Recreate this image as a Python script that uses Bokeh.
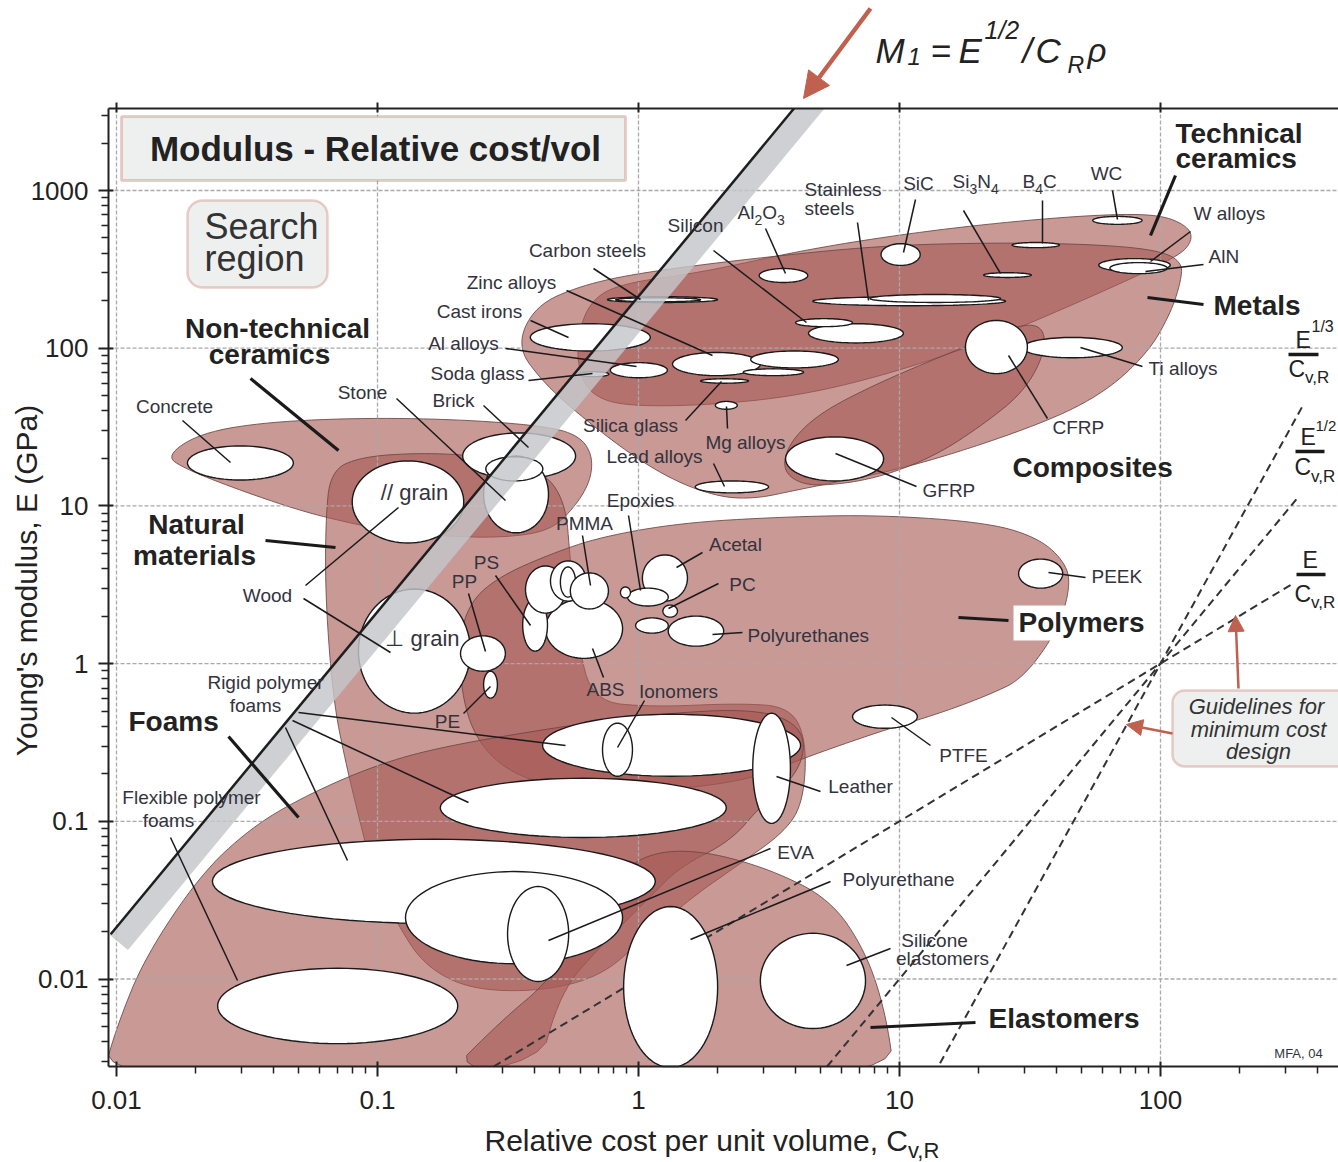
import numpy as np
from bokeh.plotting import figure
from bokeh.models import Label, BoxAnnotation, Arrow, NormalHead, FixedTicker, LogAxis
from bokeh.embed import file_html
from bokeh.resources import INLINE

# ---------------------------------------------------------------- data
x_ticks = [0.01, 0.1, 1.0, 10.0, 100.0]
x_tick_labels = ["0.01", "0.1", "1", "10", "100"]
y_ticks = [0.01, 0.1, 1.0, 10.0, 100.0, 1000.0]
y_tick_labels = ["0.01", "0.1", "1", "10", "100", "1000"]

# material bubbles: relative cost per unit volume range and modulus range (GPa)
mat_names = ["Cast irons", "Carbon steels", "Low alloy steels", "Zinc alloys", "Copper alloys",
             "Tin alloys", "Al alloys", "Soda glass", "Silica glass", "Mg alloys", "Lead alloys",
             "Al2O3", "Nickel alloys", "Silicon", "Stainless steels", "Ni superalloys", "SiC",
             "Si3N4", "B4C", "WC", "W alloys", "AlN", "Ti alloys", "CFRP", "GFRP", "Concrete",
             "Brick", "Stone", "Stone (dense)", "Wood // grain", "Wood perp. grain", "PP", "PE",
             "ABS", "PS", "PVC", "PET", "PA", "PMMA", "Acetal", "Epoxies", "Phenolics", "PC",
             "Polyesters", "Polyurethanes", "PEEK", "PTFE", "Rigid foam HD", "Ionomers", "Leather",
             "Rigid foam MD", "Rigid foam LD", "Cork", "EVA", "Polyurethane", "Silicone elastomers",
             "Flexible polymer foam"]
mat_cost_lo = [0.385, 0.76, 0.817, 1.35, 2.69, 2.52, 0.78, 0.59, 1.73, 1.97, 1.65,
               2.9, 4.48, 4.0, 4.65, 7.7, 8.5, 21, 27, 55, 58, 64, 29.6, 17.9, 3.66, 0.0187,
               0.212, 0.255, 0.26, 0.080, 0.0845, 0.208, 0.255, 0.44, 0.36, 0.369, 0.46, 0.502,
               0.548, 1.035, 0.908, 0.853, 1.24, 0.975, 1.30, 28.6, 6.61, 0.429, 0.728, 2.74,
               0.174, 0.0233, 0.128, 0.315, 0.877, 2.93, 0.0244]
mat_cost_hi = [1.11, 2.01, 1.73, 2.93, 5.83, 4.29, 1.29, 0.77, 2.64, 2.39, 3.15,
               4.45, 10.35, 6.6, 25.5, 24.4, 12.0, 32, 41, 85, 109, 106, 71.4, 30.9, 8.69, 0.0476,
               0.574, 0.452, 0.43, 0.214, 0.227, 0.309, 0.288, 0.869, 0.448, 0.525, 0.63, 0.574,
               0.767, 1.54, 1.30, 0.931, 1.41, 1.30, 2.12, 42.2, 11.7, 4.18, 0.948, 3.82,
               2.17, 1.16, 0.869, 0.54, 2.01, 7.41, 0.203]
mat_E_lo = [96, 195, 197, 67, 75, 67, 65, 66, 60, 41, 12.1,
            261, 108, 137, 186, 195, 335, 281, 434, 610, 306, 297, 87, 69, 14.4, 14.6,
            14.8, 6.75, 14.4, 5.82, 0.485, 0.895, 0.604, 1.08, 1.20, 2.09, 2.49, 2.64,
            2.22, 2.49, 2.32, 2.61, 1.97, 1.56, 1.29, 3.01, 0.389, 0.193, 0.193, 0.097,
            0.079, 0.0225, 0.0125, 0.00964, 0.00274, 0.00485, 0.00389]
mat_E_hi = [143, 212, 209, 94, 96, 74, 81, 71, 64, 46, 14.4,
            320, 143, 154, 212, 219, 460, 301, 468, 685, 370, 349, 117, 150, 27.4, 24.0,
            29.0, 20.7, 20.5, 19.3, 2.97, 1.50, 0.895, 2.57, 2.57, 4.16, 4.48, 4.10,
            3.76, 4.89, 3.01, 3.06, 2.35, 1.95, 2.00, 4.6, 0.546, 0.477, 0.419, 0.485,
            0.1875, 0.0769, 0.048, 0.0386, 0.0288, 0.0195, 0.0117]

# family envelopes: outline vertices, log10(cost) and log10(E)
tech_ceramics_log_cost = [-0.234, -0.184, -0.069, 0.238, 0.621, 1.004, 1.387, 1.770, 2.000, 2.107,
                          2.123, 2.069, 1.770, 1.387, 1.004, 0.621, 0.238, -0.069, -0.184, -0.230]
tech_ceramics_log_E = [2.079, 2.302, 2.410, 2.479, 2.619, 2.721, 2.797, 2.848, 2.848, 2.771,
                       2.683, 2.581, 2.352, 2.079, 1.857, 1.698, 1.635, 1.635, 1.711, 1.857]
metals_log_cost = [-0.467, -0.395, -0.222, 0.008, 0.429, 0.927, 1.387, 1.770, 2.000, 2.084, 2.077,
                   2.038, 1.950, 1.770, 1.506, 1.034, 0.644, 0.410, 0.222, 0.019, -0.215, -0.372]
metals_log_E = [2.016, 2.270, 2.397, 2.479, 2.568, 2.651, 2.670, 2.657, 2.619, 2.543, 2.416,
                2.219, 1.965, 1.698, 1.495, 1.241, 1.114, 1.032, 1.095, 1.267, 1.559, 1.794]
composites_log_cost = [0.552, 0.590, 0.697, 0.889, 1.119, 1.349, 1.494, 1.559, 1.548, 1.471,
                       1.330, 1.138, 0.908, 0.678, 0.582]
composites_log_E = [1.273, 1.425, 1.590, 1.756, 1.921, 2.073, 2.162, 2.111, 1.933, 1.717,
                    1.527, 1.317, 1.171, 1.121, 1.171]
nontech_log_cost = [-1.812, -1.678, -1.421, -1.038, -0.655, -0.337, -0.222, -0.176, -0.184,
                    -0.241, -0.337, -0.529, -0.759, -0.912, -1.092, -1.295, -1.552, -1.736]
nontech_log_E = [1.317, 1.463, 1.533, 1.559, 1.546, 1.502, 1.438, 1.317, 1.159,
                 1.000, 0.841, 0.797, 0.810, 0.829, 0.886, 0.968, 1.114, 1.235]
natural_log_cost = [-1.180, -1.065, -0.835, -0.605, -0.375, -0.280, -0.261, -0.234, -0.176, 0.046,
                    0.391, 0.582, 0.644, 0.632, 0.563, 0.391, 0.199, 0.008, -0.146, -0.375,
                    -0.644, -0.816, -0.920, -1.019, -1.077, -1.123, -1.169, -1.199, -1.199]
natural_log_E = [1.222, 1.311, 1.337, 1.317, 1.235, 1.032, 0.651, 0.143, -0.238, -0.276,
                 -0.251, -0.276, -0.492, -0.873, -1.063, -1.267, -1.489, -1.762, -1.984, -2.079,
                 -2.067, -1.921, -1.667, -1.317, -0.937, -0.619, -0.238, 0.397, 0.905]
polymers_log_cost = [-0.690, -0.644, -0.529, -0.337, -0.146, 0.161, 0.544, 0.927, 1.349, 1.540,
                     1.636, 1.655, 1.609, 1.475, 1.349, 1.157, 0.927, 0.621, 0.467, 0.238,
                     -0.069, -0.299, -0.490, -0.613, -0.674]
polymers_log_E = [0.143, 0.397, 0.556, 0.695, 0.803, 0.892, 0.930, 0.943, 0.892, 0.790,
                  0.638, 0.492, 0.219, -0.092, -0.194, -0.314, -0.429, -0.606, -0.714, -0.784,
                  -0.810, -0.790, -0.695, -0.505, -0.238]
foams_log_cost = [-2.061, -1.992, -1.889, -1.678, -1.487, -1.295, -1.038, -0.785, -0.337, 0.046,
                  0.467, 0.640, 0.621, 0.467, 0.352, 0.161, 0.046, -0.146, -0.299, -0.395]
foams_log_E = [-2.651, -2.270, -1.857, -1.337, -1.044, -0.854, -0.663, -0.537, -0.410, -0.321,
               -0.283, -0.416, -0.683, -0.905, -1.127, -1.286, -1.476, -1.794, -2.079, -2.651]
elastomers_log_cost = [-0.759, -0.529, -0.337, -0.184, -0.069, 0.065, 0.257, 0.506, 0.736, 0.870,
                       0.946, 0.985]
elastomers_log_E = [-2.651, -2.270, -2.003, -1.622, -1.317, -1.190, -1.190, -1.305, -1.495, -1.825,
                    -2.206, -2.651]

# design guidelines E^(1/n)/C = const through (C = 100, E = 1 GPa)
guide_exponent = [1, 2, 3]
guide_cost_lo = [0.25, 5.0, 14.3]
guide_cost_hi = [315.0, 338.0, 350.0]
guide_anchor_cost, guide_anchor_E = 100.0, 1.0

# search-region line for M1 = E^(1/2)/C
search_index = 14.6
search_band_index = 12.8
search_cost_range = [0.0095, 10.0]
search_band_cost_range = [0.0102, 10.0]

# ---------------------------------------------------------------- layout helpers
FONT = "Liberation Sans"
INK = "#222222"
TXT = "#33333d"
RED = "#c0604f"
SY = 157.7
MID = 0.35   # em-box middle above the baseline, in font sizes


def lx_of(px):
    return -2 + (px - 116) / 261.0


def ly_of(py):
    return 3 - (py - 190) / SY


def px_of(lx):
    return 116 + (lx + 2) * 261.0


def py_of(ly):
    return 190 + (3 - ly) * SY


def X(px):
    return 10 ** lx_of(px)


def Y(py):
    return 10 ** ly_of(py)


# plot box (the axes' rectangle) in log units
BX0, BX1, BY0, BY1 = lx_of(108), lx_of(1338), ly_of(1066), ly_of(108)

HW = {' ': .278, '/': .278, ',': .278, '.': .278, '-': .333, '=': .584, '(': .333, ')': .333,
      "'": .191, 'A': .667, 'B': .667, 'C': .722, 'D': .722, 'E': .667, 'F': .611, 'G': .778,
      'H': .722, 'I': .278, 'J': .5, 'K': .667, 'L': .556, 'M': .833, 'N': .722, 'O': .778,
      'P': .667, 'Q': .778, 'R': .722, 'S': .667, 'T': .611, 'U': .722, 'V': .667, 'W': .944,
      'X': .667, 'Y': .667, 'Z': .611, 'a': .556, 'b': .556, 'c': .5, 'd': .556, 'e': .556,
      'f': .278, 'g': .556, 'h': .556, 'i': .222, 'j': .222, 'k': .5, 'l': .222, 'm': .833,
      'n': .556, 'o': .556, 'p': .556, 'q': .556, 'r': .333, 's': .5, 't': .278, 'u': .556,
      'v': .5, 'w': .722, 'x': .5, 'y': .5, 'z': .5}


def tw(s, size):
    return size * sum(HW.get(c, 0.556) for c in s)


def chaikin(xs, ys, n=3):
    pts = np.column_stack([xs, ys])
    for _ in range(n):
        nxt = np.roll(pts, -1, axis=0)
        new = np.empty((2 * len(pts), 2))
        new[0::2] = 0.75 * pts + 0.25 * nxt
        new[1::2] = 0.25 * pts + 0.75 * nxt
        pts = new
    return pts[:, 0], pts[:, 1]


def clip_poly(xs, ys):
    pts = list(zip(xs, ys))

    def clip(pts, inside, cut):
        out = []
        for i in range(len(pts)):
            cur, prev = pts[i], pts[i - 1]
            if inside(cur):
                if not inside(prev):
                    out.append(cut(prev, cur))
                out.append(cur)
            elif inside(prev):
                out.append(cut(prev, cur))
        return out

    def cx(a, b, v):
        t = (v - a[0]) / (b[0] - a[0])
        return (v, a[1] + t * (b[1] - a[1]))

    def cy(a, b, v):
        t = (v - a[1]) / (b[1] - a[1])
        return (a[0] + t * (b[0] - a[0]), v)

    for inside, cut in ((lambda q: q[0] >= BX0, lambda a, b: cx(a, b, BX0)),
                        (lambda q: q[0] <= BX1, lambda a, b: cx(a, b, BX1)),
                        (lambda q: q[1] >= BY0, lambda a, b: cy(a, b, BY0)),
                        (lambda q: q[1] <= BY1, lambda a, b: cy(a, b, BY1))):
        if not pts:
            break
        pts = clip(pts, inside, cut)
    a = np.array(pts)
    return a[:, 0], a[:, 1]


def clip_seg(x0, y0, x1, y1):
    dx, dy = x1 - x0, y1 - y0
    t0, t1 = 0.0, 1.0
    for pp, qq in ((-dx, x0 - BX0), (dx, BX1 - x0), (-dy, y0 - BY0), (dy, BY1 - y0)):
        if pp == 0:
            if qq < 0:
                return None
        else:
            r = qq / pp
            if pp < 0:
                t0 = max(t0, r)
            else:
                t1 = min(t1, r)
    if t0 > t1:
        return None
    return x0 + t0 * dx, y0 + t0 * dy, x0 + t1 * dx, y0 + t1 * dy


# the frame covers the whole canvas; axes are pinned to the plot box
p = figure(width=1338, height=1162, x_axis_type="log", y_axis_type="log",
           x_range=(X(0), X(1338)), y_range=(Y(1162), Y(0)),
           output_backend="svg", toolbar_location=None, min_border=0)
p.outline_line_color = None
p.background_fill_color = "white"
p.border_fill_color = "white"
p.grid.visible = False


def label(text, px, py, size=19, style="normal", align="center", color=TXT, angle=0.0,
          font=FONT):
    p.add_layout(Label(x=X(px), y=Y(py), text=text, text_font=font,
                       text_font_size=f"{size}px", text_font_style=style,
                       text_align=align, text_baseline="middle", text_color=color,
                       angle=angle))


def on_baseline(text, px, base, size, style="normal", color=INK):
    label(text, px, base - MID * size, size=size, style=style, align="left", color=color)


def rich(parts, px, base, color=TXT, style="normal"):
    x = px
    for txt, size, dy in parts:
        on_baseline(txt, x, base + dy, size, style=style, color=color)
        x += tw(txt, size)


# ---------------------------------------------------------------- axes
minor = [k * 10.0 ** n for n in range(-3, 4) for k in range(2, 10)]
x_minor = [m for m in minor if X(108) <= m <= X(1338)]
y_minor = [m for m in minor if Y(1066) <= m <= Y(108)]
xa = p.xaxis[0]
ya = p.yaxis[0]
xa.ticker = FixedTicker(ticks=x_ticks, minor_ticks=x_minor)
ya.ticker = FixedTicker(ticks=y_ticks, minor_ticks=y_minor)
xa.major_label_overrides = {float(t): s for t, s in zip(x_ticks, x_tick_labels)}
ya.major_label_overrides = {float(t): s for t, s in zip(y_ticks, y_tick_labels)}
xa.fixed_location = Y(1066)
xa.bounds = (X(108), X(1338))
ya.fixed_location = X(108)
ya.bounds = (Y(1066), Y(108))
for ax in (xa, ya):
    ax.axis_line_color = INK
    ax.axis_line_width = 2
    ax.major_tick_line_color = INK
    ax.major_tick_line_width = 2
    ax.major_tick_out = 10
    ax.major_tick_in = 5
    ax.minor_tick_line_color = INK
    ax.minor_tick_line_width = 1.5
    ax.minor_tick_out = 7
    ax.minor_tick_in = 0
    ax.major_label_text_font = FONT
    ax.major_label_text_font_size = "26px"
    ax.major_label_text_color = INK
xa.major_label_standoff = 14
ya.major_label_standoff = 10

top = LogAxis(ticker=FixedTicker(ticks=x_ticks), major_label_text_font_size="1px",
              major_label_text_alpha=0, axis_line_color=INK, axis_line_width=2,
              major_tick_line_color=INK, major_tick_line_width=2, major_tick_out=6,
              major_tick_in=4, minor_tick_line_color=None,
              fixed_location=Y(108), bounds=(X(108), X(1338)))
p.add_layout(top, "above")

# ---------------------------------------------------------------- envelopes
envelopes = [(tech_ceramics_log_cost, tech_ceramics_log_E), (metals_log_cost, metals_log_E),
             (composites_log_cost, composites_log_E), (nontech_log_cost, nontech_log_E),
             (natural_log_cost, natural_log_E), (polymers_log_cost, polymers_log_E),
             (foams_log_cost, foams_log_E), (elastomers_log_cost, elastomers_log_E)]
env_xs, env_ys = [], []
for lc, le in envelopes:
    sx, sy = chaikin(np.array(lc, float), np.array(le, float), 3)
    sx, sy = clip_poly(sx, sy)
    env_xs.append(10 ** sx)
    env_ys.append(10 ** sy)
p.patches(env_xs, env_ys, fill_color="#a85a55", fill_alpha=0.62,
          line_color="#6b4743", line_alpha=0.85, line_width=1)

# ---------------------------------------------------------------- grid at the major ticks
p.segment(x0=x_ticks, y0=[Y(1066)] * len(x_ticks), x1=x_ticks, y1=[Y(108)] * len(x_ticks),
          line_color="#a9a9a9", line_dash="4 2", line_width=1.3)
p.segment(x0=[X(108)] * len(y_ticks), y0=y_ticks, x1=[X(1338)] * len(y_ticks), y1=y_ticks,
          line_color="#a9a9a9", line_dash="4 2", line_width=1.3)

# ---------------------------------------------------------------- guidelines
for n, c0, c1 in zip(guide_exponent, guide_cost_lo, guide_cost_hi):
    e0 = guide_anchor_E * (c0 / guide_anchor_cost) ** n
    e1 = guide_anchor_E * (c1 / guide_anchor_cost) ** n
    seg = clip_seg(np.log10(c0), np.log10(e0), np.log10(c1), np.log10(e1))
    if seg:
        p.line([10 ** seg[0], 10 ** seg[2]], [10 ** seg[1], 10 ** seg[3]],
               line_dash="8 5", line_width=2, line_color="#333333")

# ---------------------------------------------------------------- material bubbles
t = np.linspace(0, 2 * np.pi, 81)[:-1]
ell_xs, ell_ys = [], []
for clo, chi, elo, ehi in zip(mat_cost_lo, mat_cost_hi, mat_E_lo, mat_E_hi):
    cx = 0.5 * (np.log10(clo) + np.log10(chi))
    hx = 0.5 * (np.log10(chi) - np.log10(clo))
    cy = 0.5 * (np.log10(elo) + np.log10(ehi))
    hy = 0.5 * (np.log10(ehi) - np.log10(elo))
    ex, ey = clip_poly(cx + hx * np.cos(t), cy + hy * np.sin(t))
    ell_xs.append(10 ** ex)
    ell_ys.append(10 ** ey)
p.patches(ell_xs, ell_ys, fill_color="white", line_color="#1a1a1a", line_width=1.4)

# ---------------------------------------------------------------- search band & line
lc0, lc1 = np.log10(search_band_cost_range[0]), np.log10(search_band_cost_range[1])
le0 = 2 * (np.log10(search_band_index) + lc0)
le1 = 2 * (np.log10(search_band_index) + lc1)
P0 = np.array([px_of(lc0), py_of(le0)])
P1 = np.array([px_of(lc1), py_of(le1)])
d = (P1 - P0) / np.linalg.norm(P1 - P0)
nrm = np.array([-d[1], d[0]]) * 12.0
band_px = [P0 + nrm, P1 + nrm, P1 - nrm, P0 - nrm]
bx, by = clip_poly([lx_of(q[0]) for q in band_px], [ly_of(q[1]) for q in band_px])
p.patch(10 ** bx, 10 ** by, fill_color="#c4c6c9", fill_alpha=0.82, line_color=None)

sl = clip_seg(np.log10(search_cost_range[0]), 2 * np.log10(search_index * search_cost_range[0]),
              np.log10(search_cost_range[1]), 2 * np.log10(search_index * search_cost_range[1]))
p.line([10 ** sl[0], 10 ** sl[2]], [10 ** sl[1], 10 ** sl[3]], line_width=2.5,
       line_color="#1e1e1e")

# ---------------------------------------------------------------- leader lines (page px)
thin_leaders = [(713, 250, 806, 322), (765, 228, 785, 273), (857, 222, 868, 300),
                (915, 199, 903, 252), (963, 210, 1000, 273), (1042, 200, 1042, 243),
                (1112, 190, 1117, 219), (1190, 231, 1150, 261), (1203, 264, 1145, 271),
                (593, 268, 640, 299), (566, 290, 712, 355), (530, 320, 568, 337),
                (505, 348, 636, 366), (528, 380, 592, 373), (483, 405, 528, 447),
                (396, 398, 505, 500), (182, 420, 230, 462), (685, 420, 721, 381),
                (727, 428, 726, 406), (713, 463, 724, 486), (1142, 366, 1080, 347),
                (1047, 418, 1008, 355), (916, 486, 835, 453), (305, 585, 398, 507),
                (303, 598, 390, 652), (582, 535, 590, 585), (628, 515, 640, 590),
                (702, 552, 676, 567), (718, 583, 668, 608), (742, 632, 712, 634),
                (495, 575, 530, 625), (468, 593, 485, 651), (603, 677, 592, 648),
                (644, 700, 617, 747), (1085, 577, 1048, 572), (930, 745, 891, 717),
                (820, 791, 776, 776), (770, 848, 548, 940), (830, 881, 690, 939),
                (890, 948, 846, 965), (298, 712, 565, 745), (292, 720, 468, 802),
                (285, 727, 347, 860), (170, 837, 237, 980), (463, 713, 490, 686)]
thick_leaders = [(1175, 175, 1150, 235), (1203, 304, 1147, 297), (250, 378, 338, 450),
                 (265, 540, 335, 547), (1008, 620, 958, 617), (228, 736, 298, 817),
                 (975, 1022, 870, 1027)]
for segs, w in ((thin_leaders, 1.5), (thick_leaders, 3.2)):
    p.segment(x0=[X(s[0]) for s in segs], y0=[Y(s[1]) for s in segs],
              x1=[X(s[2]) for s in segs], y1=[Y(s[3]) for s in segs],
              line_color="#1a1a1a", line_width=w)

bars = [(1288, 354, 1318, 354), (1295, 451, 1324, 451), (1296, 574, 1325, 574)]
p.segment(x0=[X(s[0]) for s in bars], y0=[Y(s[1]) for s in bars],
          x1=[X(s[2]) for s in bars], y1=[Y(s[3]) for s in bars],
          line_color="#1a1a1a", line_width=3.5)

# ---------------------------------------------------------------- boxes
p.add_layout(BoxAnnotation(left=X(121), right=X(625), top=Y(116), bottom=Y(180),
                           fill_color="#eef0ef", fill_alpha=1, line_color=RED, line_width=3))
p.add_layout(BoxAnnotation(left=X(187), right=X(327), top=Y(200), bottom=Y(287),
                           fill_color="#eef0ef", fill_alpha=1, line_color=RED, line_width=2.5,
                           border_radius=15))
p.add_layout(BoxAnnotation(left=X(1172), right=X(1352), top=Y(690), bottom=Y(766),
                           fill_color="#eef0ef", fill_alpha=1, line_color=RED, line_width=2.5,
                           border_radius=12))
p.add_layout(BoxAnnotation(left=X(1013), right=X(1147), top=Y(605), bottom=Y(640),
                           fill_color="white", fill_alpha=1, line_color=None))

# ---------------------------------------------------------------- texts
label("Modulus - Relative cost/vol", 375, 148, size=35, style="bold", color=INK)
label("Search", 204, 226, size=36, align="left", color="#333333")
label("region", 204, 258, size=36, align="left", color="#333333")
label("Guidelines for", 1256, 706, size=22, style="italic", color="#333333")
label("minimum cost", 1258, 729, size=22, style="italic", color="#333333")
label("design", 1258, 751, size=22, style="italic", color="#333333")

mat_label_layout = [
    ("Silicon", 695, 225, "center"), ("Stainless", 804, 189, "left"), ("steels", 804, 208, "left"),
    ("SiC", 918, 183, "center"), ("WC", 1106, 173, "center"), ("W alloys", 1193, 213, "left"),
    ("AlN", 1208, 256, "left"), ("Carbon steels", 587, 250, "center"),
    ("Zinc alloys", 511, 282, "center"), ("Cast irons", 479, 311, "center"),
    ("Al alloys", 463, 343, "center"), ("Soda glass", 477, 373, "center"),
    ("Brick", 453, 400, "center"), ("Stone", 362, 392, "center"),
    ("Concrete", 174, 406, "center"), ("Silica glass", 630, 425, "center"),
    ("Mg alloys", 745, 442, "center"), ("Lead alloys", 654, 456, "center"),
    ("Ti alloys", 1148, 368, "left"), ("CFRP", 1052, 427, "left"), ("GFRP", 922, 490, "left"),
    ("Wood", 267, 595, "center"), ("PMMA", 584, 523, "center"), ("Epoxies", 640, 500, "center"),
    ("Acetal", 735, 544, "center"), ("PC", 742, 584, "center"),
    ("Polyurethanes", 747, 635, "left"), ("PS", 486, 562, "center"), ("PP", 464, 581, "center"),
    ("ABS", 605, 689, "center"), ("Ionomers", 678, 691, "center"), ("PEEK", 1091, 576, "left"),
    ("PTFE", 963, 755, "center"), ("Leather", 860, 786, "center"), ("EVA", 795, 852, "center"),
    ("Polyurethane", 898, 879, "center"), ("Silicone", 934, 940, "center"),
    ("elastomers", 942, 958, "center"), ("Rigid polymer", 265, 682, "center"),
    ("foams", 255, 705, "center"), ("Flexible polymer", 191, 797, "center"),
    ("foams", 168, 820, "center"), ("PE", 447, 721, "center")]
for txt, px, py, al in mat_label_layout:
    label(txt, px, py, size=19, align=al)
label("// grain", 414, 492, size=22)
label("\u22a5 grain", 422, 638, size=22)
label("MFA, 04", 1298, 1053, size=13)

rich([("Al", 19, 0), ("2", 14, 5), ("O", 19, 0), ("3", 14, 5)], 737, 219)
rich([("Si", 19, 0), ("3", 14, 5), ("N", 19, 0), ("4", 14, 5)], 952, 188)
rich([("B", 19, 0), ("4", 14, 5), ("C", 19, 0)], 1022, 188)

fam_label_layout = [
    ("Technical", 1175, 133, "left"), ("ceramics", 1175, 158, "left"),
    ("Metals", 1213, 305, "left"), ("Non-technical", 277, 328, "center"),
    ("ceramics", 269, 354, "center"), ("Natural", 196, 524, "center"),
    ("materials", 194, 555, "center"), ("Composites", 1012, 467, "left"),
    ("Polymers", 1018, 622, "left"), ("Foams", 128, 721, "left"),
    ("Elastomers", 988, 1018, "left")]
for txt, px, py, al in fam_label_layout:
    label(txt, px, py, size=28, style="bold", align=al, color=INK)

# guideline formulas (kept inside the right edge)
rich([("E", 23, 0)], 1295, 348, color=INK)
rich([("1/3", 16, 0)], 1311, 332, color=INK)
rich([("C", 23, 0), ("v,R", 17, 6)], 1288, 377, color=INK)
rich([("E", 23, 0)], 1300, 445, color=INK)
rich([("1/2", 15, 0)], 1315, 430, color=INK)
rich([("C", 23, 0), ("v,R", 17, 7)], 1294, 475, color=INK)
rich([("E", 23, 0)], 1302, 568, color=INK)
rich([("C", 23, 0), ("v,R", 17, 6)], 1294, 602, color=INK)

# index formula above the chart
for txt, px, base, sz in [("M", 875, 62, 35), ("1", 907, 64, 24), ("=", 930, 62, 35),
                          ("E", 958, 62, 35), ("1/2", 984, 38, 25), ("/", 1022, 62, 35),
                          ("C", 1035, 62, 35), ("R", 1067, 73, 23), ("\u03c1", 1087, 62, 33)]:
    on_baseline(txt, px, base, sz, style="italic", color=INK)

# axis titles
rich([("Relative cost per unit volume, C", 30, 0), ("v,R", 22, 8)], 484, 1150, color=INK)
label("Young's modulus, E (GPa)", 26, 580, size=30, color=INK, angle=np.pi / 2)

# arrows
p.add_layout(Arrow(end=NormalHead(size=26, fill_color=RED, line_color=RED),
                   x_start=X(870), y_start=Y(8), x_end=X(803), y_end=Y(98),
                   line_color=RED, line_width=4.5))
p.add_layout(Arrow(end=NormalHead(size=16, fill_color=RED, line_color=RED),
                   x_start=X(1238), y_start=Y(688), x_end=X(1235), y_end=Y(615),
                   line_color=RED, line_width=2.5))
p.add_layout(Arrow(end=NormalHead(size=16, fill_color=RED, line_color=RED),
                   x_start=X(1172), y_start=Y(733), x_end=X(1126), y_end=Y(724),
                   line_color=RED, line_width=2.5))

open("out.html", "w").write(file_html(p, INLINE))
